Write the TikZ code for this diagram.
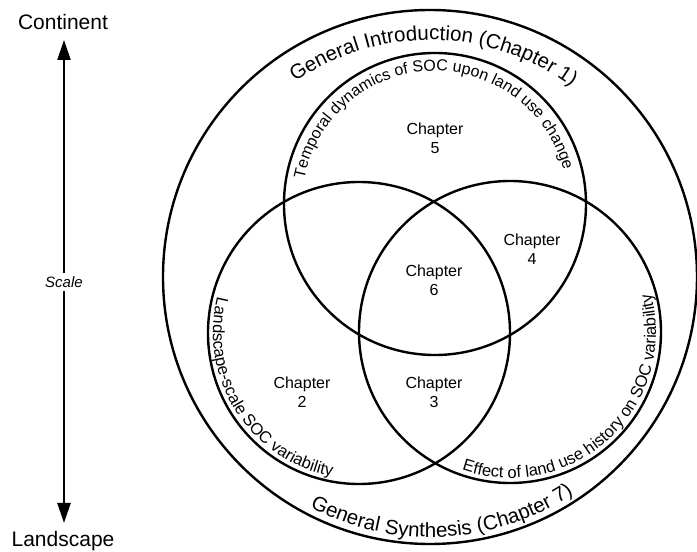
\documentclass[tikz,border=0pt]{standalone}
\usepackage{fontspec}
\setmainfont{Liberation Sans}
\usetikzlibrary{decorations.text,arrows.meta}
\begin{document}
\begin{tikzpicture}[x=1pt,y=1pt,
  ring/.style={draw=black, line width=2.4pt},
  chap/.style={align=center, font=\fontsize{16}{19}\selectfont, inner sep=0pt},
  side/.style={font=\fontsize{21}{21}\selectfont, anchor=base, inner sep=0pt},
  scalearrow/.style={line width=2.4pt, -{Triangle[length=20pt,width=13pt]}}]
\useasboundingbox (0,0) rectangle (697,552);
% centres
\coordinate (O) at (430,275);
\coordinate (T) at (435,348);
\coordinate (L) at (359,219);
\coordinate (R) at (510,220);
% circles
\draw[ring] (O) circle[radius=267];
\draw[ring] (T) circle[radius=151];
\draw[ring] (L) circle[radius=151];
\draw[ring] (R) circle[radius=151];
% curved texts
\path[decorate, decoration={text along path, text align=center,
  text={|\fontsize{20.5}{20.5}\selectfont|General Introduction (Chapter 1)}}]
  (O) ++(160:237) arc[start angle=160, end angle=18, radius=237];
\path[decorate, decoration={text along path, text align=center,
  text={|\fontsize{20.5}{20.5}\selectfont|General Synthesis (Chapter 7)}}]
  (O) ++(202:260) arc[start angle=202, end angle=344, radius=260];
\path[decorate, decoration={text along path, text align=center,
  text={|\fontsize{16}{16}\selectfont|Temporal dynamics of SOC upon land use change}}]
  (T) ++(200:133) arc[start angle=200, end angle=-16, radius=133];
\path[decorate, decoration={text along path, text align=center,
  text={|\fontsize{16.5}{16.5}\selectfont|Landscape-scale SOC variability}}]
  (L) ++(130:146) arc[start angle=130, end angle=295, radius=146];
\path[decorate, decoration={text along path, text align=center,
  text={|\fontsize{16.5}{16.5}\selectfont|Effect of land use history on SOC variability}}]
  (R) ++(240:146) arc[start angle=240, end angle=386, radius=146];
% chapter labels
\node[chap] (c5) at (435,414) {Chapter\\5};
\node[chap] (c6) at (434,272) {Chapter\\6};
\node[chap] (c4) at (532,303) {Chapter\\4};
\node[chap] (c2) at (302,160) {Chapter\\2};
\node[chap] (c3) at (434,160) {Chapter\\3};
% scale arrow
\node[side] (cont) at (63,522) {Continent};
\node[side] (land) at (63,5) {Landscape};
\node[font=\itshape\fontsize{15}{15}\selectfont] (scale) at (64,270) {Scale};
\coordinate (uptip) at (64,512);
\coordinate (dntip) at (64,29);
\draw[scalearrow] (scale.north) -- (uptip);
\draw[scalearrow] (scale.south) -- (dntip);
\end{tikzpicture}
\end{document}
